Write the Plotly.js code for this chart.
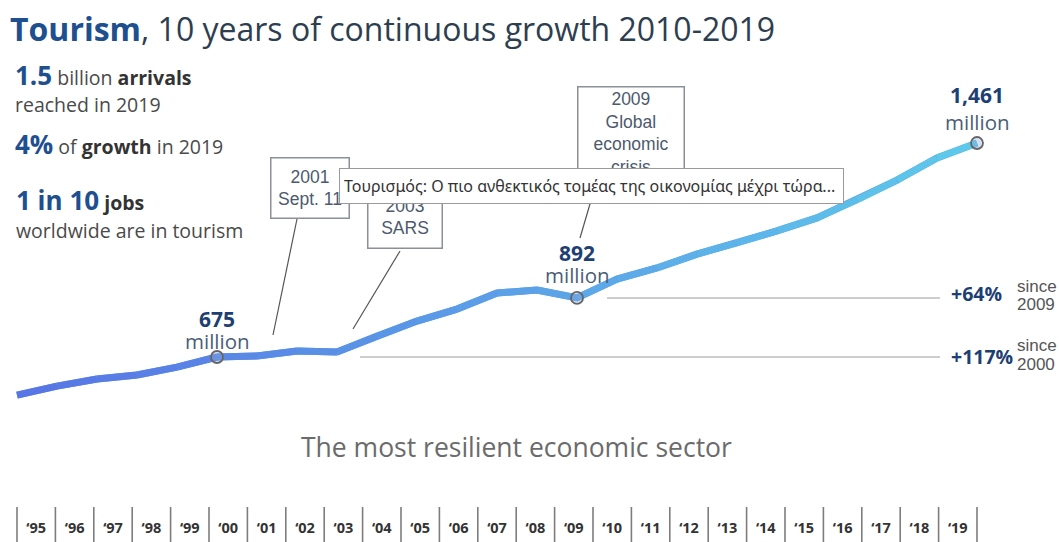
<!DOCTYPE html>
<html>
<head>
<meta charset="utf-8">
<script src="https://cdn.plot.ly/plotly-3.0.1.min.js"></script>
<style>html,body{margin:0;padding:0;background:#fff;}#chart{width:1059px;height:542px;}</style>
</head>
<body>
<div id="chart"></div>
<script>
// ---- data ----
const years = [1995,1996,1997,1998,1999,2000,2001,2002,2003,2004,2005,2006,2007,2008,2009,2010,2011,2012,2013,2014,2015,2016,2017,2018,2019];
const arrivals = [535,568,594,609,638,675,679,697,693,752,807,851,910,921,892,961,1002,1053,1094,1138,1186,1252,1325,1406,1461];
const tickLabels = ["‘95","‘96","‘97","‘98","‘99","‘00","‘01","‘02","‘03","‘04","‘05","‘06","‘07","‘08","‘09","‘10","‘11","‘12","‘13","‘14","‘15","‘16","‘17","‘18","‘19"];
const highlightYears = [2000, 2009, 2019];
const highlightValues = [675, 892, 1461];
const highlightLabels = ["675", "892", "1,461"];
const growthLabels = ["+64%", "+117%"];
const growthSince = ["2009", "2000"];
const growthBaseValues = [892, 675];

// ---- helpers ----
const W = 1059, H = 542;
const PX = x => x / W;
const PY = y => 1 - y / H;
const BLUE = '#1e4f8f';
const GREY = '#4a4a4a';
const OS = 'Open Sans, Noto Sans, sans-serif';
const AR = 'Liberation Sans, Arial, sans-serif';

function lerpColor(t) {
  const a = [88, 118, 228], b = [94, 200, 234];
  const c = a.map((v, i) => Math.round(v + (b[i] - v) * t));
  return 'rgb(' + c.join(',') + ')';
}

const traces = [];
traces.push({x: years, y: arrivals, mode: 'lines', line: {color: lerpColor(0.45), width: 7}, hoverinfo: 'skip', showlegend: false});
for (let i = 0; i < years.length - 1; i++) {
  traces.push({
    x: years.slice(i, i + 2), y: arrivals.slice(i, i + 2), mode: 'lines',
    line: {color: lerpColor(i / (years.length - 2)), width: 7},
    hoverinfo: 'skip', showlegend: false
  });
}
traces.push({
  x: highlightYears, y: highlightValues, mode: 'markers',
  marker: {size: 12, color: 'rgba(140,170,220,0.35)', line: {color: '#666', width: 1.8}},
  hoverinfo: 'skip', showlegend: false
});

const shapes = [];
for (let i = 0; i <= years.length; i++) {
  shapes.push({type: 'line', xref: 'x2', yref: 'paper', x0: years[0] - 0.5 + i, x1: years[0] - 0.5 + i,
    y0: PY(542), y1: PY(507), line: {color: '#7d7d7d', width: 1.6}});
}
shapes.push({type: 'line', xref: 'paper', yref: 'y', x0: PX(607), x1: PX(940), y0: growthBaseValues[0], y1: growthBaseValues[0], line: {color: '#bdbdbd', width: 1.5}});
shapes.push({type: 'line', xref: 'paper', yref: 'y', x0: PX(360), x1: PX(940), y0: growthBaseValues[1], y1: growthBaseValues[1], line: {color: '#bdbdbd', width: 1.5}});
shapes.push({type: 'line', xref: 'paper', yref: 'paper', x0: PX(297), y0: PY(219), x1: PX(273), y1: PY(335), line: {color: '#555', width: 1.2}});
shapes.push({type: 'line', xref: 'paper', yref: 'paper', x0: PX(400), y0: PY(251), x1: PX(353), y1: PY(329), line: {color: '#555', width: 1.2}});
shapes.push({type: 'line', xref: 'paper', yref: 'paper', x0: PX(597), y0: PY(180), x1: PX(580), y1: PY(238), line: {color: '#555', width: 1.2}});

const ann = [];
function txt(text, x, y, size, color, family) {
  ann.push({text: text, xref: 'paper', yref: 'paper', x: PX(x), y: PY(y),
    xanchor: 'left', yanchor: 'middle', showarrow: false,
    font: {family: family || OS, size: size, color: color}});
}
txt("<b style='color:" + BLUE + ";font-size:26px'>1.5</b> billion <b style='color:#333'>arrivals</b>", 13, 75, 19.5, GREY);
txt("reached in 2019", 13, 104, 19.5, GREY);
txt("<b style='color:" + BLUE + ";font-size:26px'>4%</b> of <b style='color:#333'>growth</b> in 2019", 13, 144, 19.5, GREY);
txt("<b style='color:" + BLUE + ";font-size:26px'>1 in 10</b> <b style='color:#333'>jobs</b>", 14, 200, 19.5, GREY);
txt("worldwide are in tourism", 14, 230, 19.5, GREY);

const lblShift = [[38, 16], [45, 23], [48, 21]];
highlightYears.forEach((yr, i) => {
  ann.push({text: '<b>' + highlightLabels[i] + '</b>', x: yr, y: highlightValues[i], xref: 'x', yref: 'y',
    yshift: lblShift[i][0], showarrow: false, font: {family: OS, size: 21, color: '#1d3f73'}});
  ann.push({text: 'million', x: yr, y: highlightValues[i], xref: 'x', yref: 'y',
    yshift: lblShift[i][1], showarrow: false, font: {family: OS, size: 20.5, color: '#4a5d78'}});
});

const gY = [[293, 286, 304], [356, 345, 364]];
growthLabels.forEach((g, i) => {
  txt('<b>' + g + '</b>', 949, gY[i][0], 19.5, '#1d3f73');
  txt('since', 1015, gY[i][1], 17, '#555', AR);
  txt(growthSince[i], 1015, gY[i][2], 17, '#555', AR);
});

function box(text, cx, cy, w, h) {
  ann.push({text: text, xref: 'paper', yref: 'paper', x: PX(cx), y: PY(cy), xanchor: 'center', yanchor: 'middle',
    showarrow: false, width: w, height: h, bgcolor: '#fff', bordercolor: '#8a8f98', borderwidth: 1.5, borderpad: 0,
    font: {family: AR, size: 17.5, color: '#4c5a6e'}});
}
box('2001<br>Sept. 11', 310, 188, 77, 59);
box('2003<br>SARS', 405, 217, 73, 61);
box('2009<br>Global<br>economic<br>crisis', 631, 133, 105, 91);

ann.push({text: 'The most resilient economic sector', xref: 'paper', yref: 'paper', x: PX(516), y: PY(447),
  xanchor: 'center', yanchor: 'middle', showarrow: false, font: {family: OS, size: 26.5, color: '#6b6b6b'}});

ann.push({text: 'Τουρισμός: Ο πιο ανθεκτικός τομέας της οικονομίας μέχρι τώρα...', xref: 'paper', yref: 'paper',
  x: PX(591.5), y: PY(186.5), xanchor: 'center', yanchor: 'middle', showarrow: false, width: 495, height: 26,
  align: 'left', bgcolor: '#fff', bordercolor: '#9a9a9a', borderwidth: 1, borderpad: 4,
  font: {family: 'Noto Sans, DejaVu Sans, sans-serif', size: 16, color: '#333'}});

const layout = {
  width: W, height: H,
  margin: {l: 0, r: 0, t: 0, b: 0},
  paper_bgcolor: '#fff', plot_bgcolor: '#fff',
  showlegend: false,
  title: {text: "<b style='color:" + BLUE + "'>Tourism</b>, 10 years of continuous growth 2010-2019",
    font: {family: OS, size: 32, color: '#2d3e50'}, x: PX(10), xanchor: 'left', xref: 'container',
    y: PY(30), yanchor: 'middle', yref: 'container'},
  xaxis: {visible: false, range: [1995 - 17 / 40, 1995 - 17 / 40 + W / 40], fixedrange: true},
  xaxis2: {overlaying: 'x', anchor: 'y', side: 'bottom', range: [1994.5 - 17 / 38.4, 1994.5 - 17 / 38.4 + W / 38.4],
    tickmode: 'array', tickvals: years, ticktext: tickLabels, ticklabelposition: 'inside', ticks: '',
    showline: false, showgrid: false, zeroline: false, ticklabelstandoff: 3,
    tickfont: {family: OS, size: 14.5, color: '#333', weight: 700}},
  yaxis: {visible: false, range: [-4.5, 1986.3], fixedrange: true},
  shapes: shapes,
  annotations: ann
};

Plotly.newPlot('chart', traces, layout, {displayModeBar: false, staticPlot: true});
</script>
</body>
</html>
